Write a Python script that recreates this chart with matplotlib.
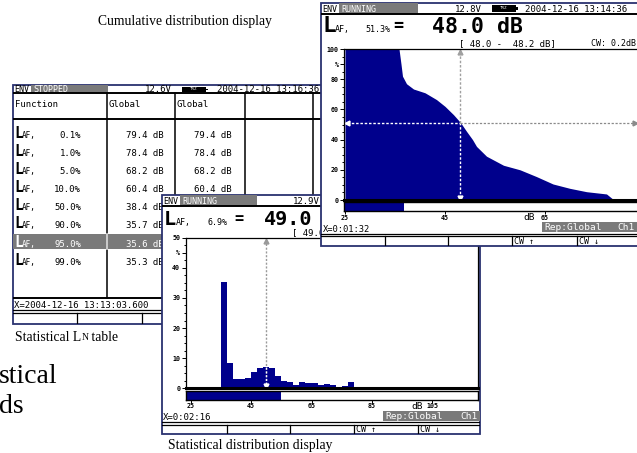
import numpy as np
import matplotlib.pyplot as plt
from matplotlib.patches import Rectangle
from matplotlib.ticker import MultipleLocator

W, H = 637, 453
NAVY = '#00008c'
GREY = '#7a7a7a'
EDGE = '#2a3270'
MONO = 'DejaVu Sans Mono'
SERIF = 'Liberation Serif'

# Statistical LN table
ln_levels = ['0.1', '1.0', '5.0', '10.0', '50.0', '90.0', '95.0', '99.0']
ln_values = [79.4, 78.4, 68.2, 60.4, 38.4, 35.7, 35.6, 35.3]
ln_selected = '95.0'

# Statistical distribution, 2 dB classes
hist_class_db = [35, 37, 39, 41, 43, 45, 47, 49, 51, 53, 55, 57,
                 59, 61, 63, 65, 67, 69, 71, 73, 75, 77, 79]
hist_percent = [35.2, 8.3, 3.1, 3.1, 3.4, 5.4, 6.7, 7.1, 6.7, 4.1, 2.4, 2.1,
                1.1, 2.1, 1.8, 1.8, 1.1, 1.5, 1.2, 0.5, 0.8, 2.1, 0.3]
hist_width = 2
hist_cursor_db = 49.0
hist_cursor_pct = 6.9
hist_progress_db = 54.9
hist_ticks = [25, 45, 65, 85, 105]

# Cumulative distribution
cum_db = [25, 35.8, 36.2, 36.5, 37.3, 38.7, 41.0, 43.3, 45.0, 46.7, 48.1, 49.3,
          50.5, 51.3, 53.3, 56.7, 60.0, 63.3, 66.6, 70.0, 73.3, 77.3, 78.6, 79.3]
cum_pct = [100, 100, 90, 82, 77, 73.5, 71, 66.5, 62, 56.5, 51.3, 45.5,
           40, 35.5, 29, 23, 20, 15.5, 10.6, 7.7, 5.5, 4, 0.5, 0]
cum_cursor_db = 48.0
cum_cursor_pct = 51.3
cum_progress_db = 36.7
cum_ticks = [25, 45, 65]

fig = plt.figure(figsize=(W / 100, H / 100), dpi=100)


def px_rect(x0, y0, x1, y1):
    return [x0 / W, 1 - y1 / H, (x1 - x0) / W, (y1 - y0) / H]


def panel(x0, y0, x1, y1, z):
    ax = fig.add_axes(px_rect(x0, y0, x1, y1), zorder=z)
    ax.set_xlim(x0, x1)
    ax.set_ylim(y1, y0)
    ax.axis('off')
    ax.add_patch(Rectangle((x0, y0), x1 - x0, y1 - y0, facecolor='white',
                           edgecolor=EDGE, lw=1.3, zorder=0, clip_on=False))
    return ax


def mono(ax, x, y, s, size=6.5, **kw):
    kw.setdefault('va', 'baseline')
    kw.setdefault('fontweight', 'bold')
    ax.text(x, y, s, fontsize=size, family=MONO, **kw)


def header(ax, x0, x1, y0, y1, status, grey_end, volt, volt_right, date_x, date):
    mid = y1 - 1.5
    ax.add_patch(Rectangle((x0 + 18, y0), grey_end - x0 - 18, y1 - y0, color=GREY, lw=0))
    mono(ax, x0 + 1.5, mid, 'ENV', 6, fontweight='normal')
    mono(ax, x0 + 20, mid, status, 6, color='white', fontweight='normal')
    mono(ax, volt_right, mid, volt, 6.5, ha='right', fontweight='normal')
    if date:
        ax.add_patch(Rectangle((volt_right + 10, y0 + 1.5), 24, y1 - y0 - 3, color='black', lw=0))
        ax.add_patch(Rectangle((volt_right + 34, y0 + 3.5), 2, y1 - y0 - 7, color='black', lw=0))
        ax.text(volt_right + 22, (y0 + y1) / 2, 'TRZ', color='white', fontsize=3,
                family=MONO, ha='center', va='center')
        mono(ax, date_x, mid, date, 6.5, fontweight='normal')
    ax.plot([x0, x1], [y1 + 0.5, y1 + 0.5], color='black', lw=1.4)


def style_plot(ax, ticks, labels, minor):
    ax.set_facecolor('white')
    for s in ['left', 'top', 'right']:
        ax.spines[s].set_linewidth(0.9)
    ax.spines['bottom'].set_linewidth(2.2)
    ax.set_xticks([])
    ax.set_yticks(ticks)
    ax.set_yticklabels(labels, fontsize=4.8, family=MONO, fontweight='bold')
    ax.yaxis.set_minor_locator(MultipleLocator(minor))
    ax.tick_params(axis='y', which='major', direction='out', length=3, width=0.7, pad=1)
    ax.tick_params(axis='y', which='minor', direction='out', length=1.8, width=0.7)


def progress(rect, z, lims, value, ticks, db_tick):
    ax = fig.add_axes(rect, zorder=z)
    ax.set_xlim(*lims)
    ax.set_ylim(0, 1)
    ax.barh(0.5, value - lims[0], left=lims[0], height=1, color=NAVY)
    for s in ax.spines.values():
        s.set_linewidth(1)
    ax.set_yticks([])
    ax.set_xticks(ticks)
    ax.set_xticklabels([str(t) for t in ticks], fontsize=4.8, family=MONO, fontweight='bold')
    ax.tick_params(axis='x', direction='out', length=2.5, width=0.7, pad=0.3)
    ax.annotate('dB', xy=(db_tick, 0), xycoords=('data', 'axes fraction'),
                xytext=(-7, -1.5), textcoords='offset points', ha='right', va='top',
                fontsize=6.8, family=MONO)
    return ax


# background with captions
bg = fig.add_axes([0, 0, 1, 1], zorder=0)
bg.set_xlim(0, W)
bg.set_ylim(H, 0)
bg.axis('off')
bg.text(98, 25, 'Cumulative distribution display', fontsize=9.8, family=SERIF, va='baseline')
t1 = bg.text(15, 341, 'Statistical L', fontsize=9.8, family=SERIF, va='baseline')
t2 = bg.annotate('N', xy=(1, 0), xycoords=t1, xytext=(0, 1.2), textcoords='offset points',
                 fontsize=7, family=SERIF, va='bottom')
bg.annotate(' table', xy=(1, 0), xycoords=t2, xytext=(0, -1.2), textcoords='offset points',
            fontsize=9.8, family=SERIF, va='bottom')
bg.text(168, 449, 'Statistical distribution display', fontsize=9.8, family=SERIF, va='baseline')
bg.text(-1, 383, 'stical', fontsize=20, family=SERIF, va='baseline')
bg.text(-1, 413, 'ds', fontsize=20, family=SERIF, va='baseline')

# ---- LN table panel
tb = panel(13, 85, 330, 324, 1)
header(tb, 13, 330, 85, 93, 'STOPPED', 108, '12.6V', 172, 217, '2004-12-16 13:16:36')
for x in [107, 175, 245, 313]:
    tb.plot([x, x], [93, 298], color='black', lw=1.1)
tb.plot([13, 330], [119, 119], color='black', lw=1.4)
mono(tb, 15, 107, 'Function', 6.5, fontweight='normal')
mono(tb, 109, 107, 'Global', 6.5, fontweight='normal')
mono(tb, 177, 107, 'Global', 6.5, fontweight='normal')
for i, (lvl, val) in enumerate(zip(ln_levels, ln_values)):
    y = 133 + i * 18.1
    col = 'black'
    if lvl == ln_selected:
        tb.add_patch(Rectangle((13, y - 8), 162, 15, color=GREY, lw=0))
        tb.plot([107, 107], [y - 8, y + 7], color='white', lw=1.1)
        col = 'white'
    mono(tb, 14, y + 5, 'L', 10.5, color=col)
    mono(tb, 21.5, y + 5, 'AF,', 5.5, color=col, fontweight='normal')
    mono(tb, 81, y + 5, lvl + '%', 6.5, color=col, ha='right', fontweight='normal')
    mono(tb, 164, y + 5, f'{val:.1f} dB', 6.5, color=col, ha='right', fontweight='normal')
    mono(tb, 232, y + 5, f'{val:.1f} dB', 6.5, ha='right', fontweight='normal')
tb.plot([13, 330], [298, 298], color='black', lw=1.4)
mono(tb, 14, 308, 'X=2004-12-16 13:13:03.600', 6.5, fontweight='normal')
tb.plot([13, 330], [310, 310], color='black', lw=0.9)
tb.plot([13, 330], [313, 313], color='black', lw=0.9)
for x in [77, 142, 207, 272]:
    tb.plot([x, x], [313, 324], color='black', lw=0.9)

# ---- statistical distribution panel
hp = panel(162, 195, 480, 434, 2)
header(hp, 162, 480, 195, 205.5, 'RUNNING', 257, '12.9V', 320, 0, '')
mono(hp, 163.5, 225, 'L', 14.5)
mono(hp, 176, 225, 'AF,', 6, fontweight='normal')
mono(hp, 227, 225, f'{hist_cursor_pct:.1f}%', 6, ha='right', fontweight='normal')
mono(hp, 234, 222.5, '=', 11)
mono(hp, 264, 225, f'{hist_cursor_db:.1f}', 14.5)
mono(hp, 292, 235.5, f'[ {hist_cursor_db:.1f} -  {hist_cursor_db + hist_width:.1f} dB]', 6.5,
     fontweight='normal')
mono(hp, 163, 420, 'X=0:02:16', 6.5, fontweight='normal')
hp.add_patch(Rectangle((383, 411), 97, 9.5, color=GREY, lw=0))
mono(hp, 385, 419, 'Rep:Global', 6.8, color='white', fontweight='normal')
mono(hp, 478, 419, 'Ch1', 6.8, color='white', ha='right', fontweight='normal')
hp.plot([162, 480], [422, 422], color='black', lw=0.9)
hp.plot([162, 480], [424.5, 424.5], color='black', lw=0.9)
for x in [227, 290, 354, 418]:
    hp.plot([x, x], [424.5, 434], color='black', lw=0.9)
mono(hp, 356, 432, 'CW \u2191', 6, fontweight='normal')
mono(hp, 420, 432, 'CW \u2193', 6, fontweight='normal')

hx = fig.add_axes(px_rect(185.7, 237.7, 478, 388.3), zorder=2.1)
hist_lims = (23.35, 120.1)
hx.set_xlim(*hist_lims)
hx.set_ylim(0, 50)
hx.bar(hist_class_db, hist_percent, width=hist_width, align='edge', color=NAVY, lw=0)
style_plot(hx, [0, 10, 20, 30, 40, 45, 50], ['0', '10', '20', '30', '40', '%', '50'], 2.5)
k = int((hist_cursor_db - hist_class_db[0]) // hist_width)
cx = hist_class_db[k] + hist_width / 2
hx.plot([cx, cx], [0, 49], color='#9a9a9a', lw=1, ls=(0, (1.5, 1.2)))
hx.plot([cx, cx], [0, hist_percent[k]], color='white', lw=1, ls=(0, (1.5, 1.2)))
hx.plot([cx], [49], marker='^', color='#9a9a9a', ms=3.5)
hx.plot([cx], [0.8], marker='v', color='white', ms=3.5)
progress(px_rect(185.7, 391, 478, 399.5), 2.1, hist_lims, hist_progress_db, hist_ticks, 105)

# ---- cumulative distribution panel
cp = panel(321, 3, 645, 246, 3)
header(cp, 321, 645, 3, 13.5, 'RUNNING', 418, '12.8V', 482, 525, '2004-12-16 13:14:36')
mono(cp, 322.5, 32.5, 'L', 16)
mono(cp, 335, 32, 'AF,', 6, fontweight='normal')
mono(cp, 390, 32, f'{cum_cursor_pct:.1f}%', 6, ha='right', fontweight='normal')
mono(cp, 393, 30.5, '=', 12)
mono(cp, 432, 33, f'{cum_cursor_db:.1f} dB', 15.5)
mono(cp, 459, 46, f'[ {cum_cursor_db:.1f} -  {cum_cursor_db + 0.2:.1f} dB]', 6.5, fontweight='normal')
mono(cp, 636, 46, 'CW: 0.2dB', 6, ha='right', fontweight='normal')
mono(cp, 323, 232.5, 'X=0:01:32', 6.3, fontweight='normal')
cp.add_patch(Rectangle((542, 222), 103, 10, color=GREY, lw=0))
mono(cp, 544, 230.5, 'Rep:Global', 6.8, color='white', fontweight='normal')
mono(cp, 635, 230.5, 'Ch1', 6.8, color='white', ha='right', fontweight='normal')
cp.plot([321, 645], [233.5, 233.5], color='black', lw=0.9)
cp.plot([321, 645], [236, 236], color='black', lw=0.9)
for x in [385, 448, 512, 577]:
    cp.plot([x, x], [236, 246], color='black', lw=0.9)
mono(cp, 514, 244, 'CW \u2191', 6, fontweight='normal')
mono(cp, 579, 244, 'CW \u2193', 6, fontweight='normal')

cx_ax = fig.add_axes(px_rect(344, 49, 645, 200), zorder=3.1)
cum_lims = (24.8, 85.0)
cx_ax.set_xlim(*cum_lims)
cx_ax.set_ylim(0, 100)
cx_ax.fill_between(cum_db, cum_pct, color=NAVY, lw=0)
style_plot(cx_ax, [0, 20, 40, 60, 80, 90, 100], ['0', '20', '40', '60', '80', '%', '100'], 5)
dash = (0, (1.8, 1.3))
cx_ax.plot([cum_cursor_db, cum_cursor_db], [cum_cursor_pct, 99], color='#a0a0a0', lw=1, ls=dash)
cx_ax.plot([cum_cursor_db, cum_cursor_db], [1.5, cum_cursor_pct], color='white', lw=1, ls=dash)
cx_ax.plot([cum_lims[0] + 0.5, cum_cursor_db], [cum_cursor_pct] * 2, color='white', lw=1, ls=dash)
cx_ax.plot([cum_cursor_db, 83.0], [cum_cursor_pct] * 2, color='#8a8a8a', lw=0.9, ls=dash)
cx_ax.plot([cum_cursor_db], [98], marker='^', color='#a0a0a0', ms=3.5)
cx_ax.plot([cum_cursor_db], [1.5], marker='v', color='white', ms=3.5)
cx_ax.plot([cum_lims[0] + 0.5], [cum_cursor_pct], marker='<', color='white', ms=3.5)
cx_ax.plot([83.0], [cum_cursor_pct], marker='>', color='#8a8a8a', ms=3.5)
progress(px_rect(344, 202, 645, 211), 3.1, cum_lims, cum_progress_db, cum_ticks, 65)

fig.savefig('out.png', dpi=100)
